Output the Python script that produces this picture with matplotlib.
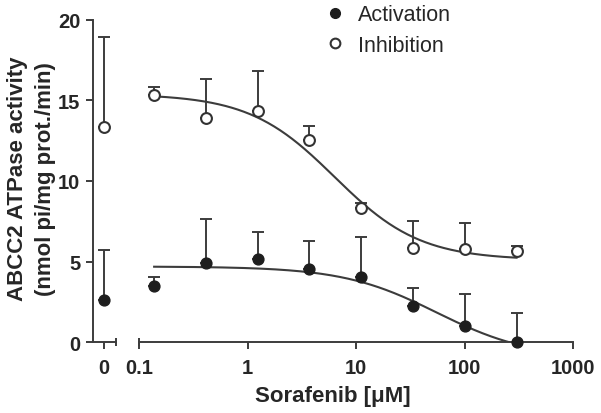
import numpy as np
import matplotlib
matplotlib.use("Agg")
import matplotlib.pyplot as plt
from matplotlib.lines import Line2D

# ---------------- data ----------------
conc = [0.137, 0.41, 1.23, 3.7, 11.1, 33.3, 100, 300]          # Sorafenib [uM]
act_mean = [3.52, 4.90, 5.15, 4.55, 4.04, 2.28, 1.00, 0.00]
act_sd = [0.52, 2.76, 1.66, 1.74, 2.48, 1.07, 2.00, 1.84]
inh_mean = [15.33, 13.89, 14.36, 12.56, 8.31, 5.84, 5.78, 5.63]
inh_sd = [0.52, 2.43, 2.48, 0.87, 0.30, 1.66, 1.61, 0.37]
ctrl_act_mean, ctrl_act_sd = 2.64, 3.11      # 0 uM
ctrl_inh_mean, ctrl_inh_sd = 13.35, 5.60     # 0 uM

# fitted sigmoid (four-parameter logistic) parameters
act_fit = dict(top=4.7, bottom=-1.0, log_ic50=1.74, hill=1.0)
inh_fit = dict(top=15.4, bottom=5.1, log_ic50=0.80, hill=1.1)

xticks_main = [0.1, 1, 10, 100, 1000]
xtick_labels_main = ["0.1", "1", "10", "100", "1000"]
yticks = [0, 5, 10, 15, 20]

# ---------------- style ----------------
plt.rcParams['font.family'] = ['Liberation Sans', 'DejaVu Sans']
AX = '#3c3c3c'
TXT = '#262626'
LINE = '#3c3c3c'
W, H = 601, 414
fig = plt.figure(figsize=(W / 100, H / 100), dpi=100)

def px(x0, y0, x1, y1):
    return [x0 / W, 1 - y1 / H, (x1 - x0) / W, (y1 - y0) / H]

ax0 = fig.add_axes(px(92.7, 20.7, 116.0, 343.3))
ax = fig.add_axes(px(139.3, 20.7, 573.3, 343.3))

for a in (ax0, ax):
    a.set_ylim(0, 20)
    for s in ('top', 'right'):
        a.spines[s].set_visible(False)
    for s in ('left', 'bottom'):
        a.spines[s].set_color(AX)
        a.spines[s].set_linewidth(1.4)
    a.tick_params(colors=AX, width=1.4, length=5, labelcolor=TXT, labelsize=14.5)
    a.patch.set_alpha(0)

ax.spines['left'].set_visible(False)
ax.tick_params(axis='y', left=False, labelleft=False)

ax0.set_xlim(-1.0, 1.06)
ax0.set_xticks([0])
ax0.set_xticklabels(["0"])
ax0.set_yticks(yticks)
ax0.set_yticklabels([str(v) for v in yticks])

ax.set_xscale('log')
ax.set_xlim(0.1, 1000)
ax.set_xticks(xticks_main)
ax.set_xticklabels(xtick_labels_main)
ax.xaxis.set_minor_locator(matplotlib.ticker.NullLocator())

for a in (ax0, ax):
    for lab in a.get_xticklabels() + a.get_yticklabels():
        lab.set_fontweight('bold')
    a.tick_params(axis='x', pad=6)
    a.tick_params(axis='y', pad=4)

# segment end bars
ax0.plot([1], [0], marker='|', ms=6, mew=1.4, color=AX, transform=ax0.transAxes, clip_on=False)
ax.plot([0], [0], marker='|', ms=6, mew=1.4, color=AX, transform=ax.transAxes, clip_on=False)

# ---------------- curves ----------------
def logistic(x, p):
    return p['bottom'] + (p['top'] - p['bottom']) / (1 + 10 ** ((np.log10(x) - p['log_ic50']) * p['hill']))

xs = np.logspace(np.log10(conc[0]), np.log10(conc[-1]), 300)
ax.plot(xs, logistic(xs, inh_fit), color=LINE, lw=1.5, zorder=2)
ax.plot(xs, logistic(xs, act_fit), color=LINE, lw=1.5, zorder=2)

# ---------------- points ----------------
ms = 7.8
ebk = dict(ecolor=LINE, elinewidth=1.4, capsize=4.2, capthick=1.4, linestyle='none', clip_on=False)

def pts(a, x, m, sd, filled):
    m = np.atleast_1d(m); sd = np.atleast_1d(sd)
    a.errorbar(x, m, yerr=[np.zeros_like(sd), sd], fmt='none', zorder=3, **ebk)
    a.plot(x, m, 'o', ms=ms, mfc=('#1e1e1e' if filled else 'white'),
           mec='#1e1e1e' if filled else '#333333', mew=1.0 if filled else 1.5,
           linestyle='none', zorder=4, clip_on=False)

pts(ax, conc, inh_mean, inh_sd, False)
pts(ax, conc, act_mean, act_sd, True)
pts(ax0, [0], ctrl_inh_mean, ctrl_inh_sd, False)
pts(ax0, [0], ctrl_act_mean, ctrl_act_sd, True)

# ---------------- labels ----------------
fig.text(17.5 / W, 1 - 179 / H, "ABCC2 ATPase activity", rotation=90, ha='center', va='center',
         fontsize=16, fontweight='bold', color=TXT)
fig.text(46 / W, 1 - 179 / H, "(nmol pi/mg prot./min)", rotation=90, ha='center', va='center',
         fontsize=16, fontweight='bold', color=TXT)
fig.text(333 / W, 1 - 397 / H, "Sorafenib [μM]", ha='center', va='center',
         fontsize=16, fontweight='bold', color=TXT)

handles = [Line2D([], [], marker='o', ls='none', ms=7, mfc='#1e1e1e', mec='#1e1e1e', mew=1.0),
           Line2D([], [], marker='o', ls='none', ms=7, mfc='white', mec='#333333', mew=1.5)]
leg = fig.legend(handles, ["Activation", "Inhibition"], loc='upper left',
                 bbox_to_anchor=(322 / W, 1 - 3 / H), frameon=False, fontsize=15.5,
                 handlelength=1.0, handletextpad=0.55, labelspacing=0.45, borderaxespad=0, borderpad=0.1)
for t in leg.get_texts():
    t.set_color(TXT)

fig.savefig("out.png", dpi=100)
